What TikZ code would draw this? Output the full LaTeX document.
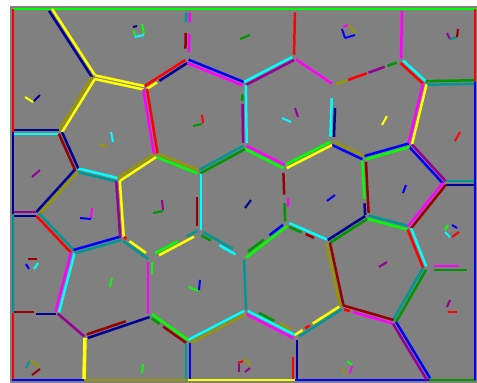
\documentclass[tikz,border=0pt]{standalone}
\usetikzlibrary{calc}
\definecolor{kgray}{RGB}{128,128,128}
\definecolor{kred}{RGB}{255,0,0}
\definecolor{kdred}{RGB}{150,0,0}
\definecolor{kgreen}{RGB}{0,255,0}
\definecolor{kdgreen}{RGB}{0,150,0}
\definecolor{kblue}{RGB}{0,0,255}
\definecolor{knavy}{RGB}{0,0,150}
\definecolor{kyellow}{RGB}{255,255,0}
\definecolor{kolive}{RGB}{150,150,0}
\definecolor{kcyan}{RGB}{0,255,255}
\definecolor{kteal}{RGB}{0,150,150}
\definecolor{kmag}{RGB}{255,0,255}
\definecolor{kpurple}{RGB}{150,0,150}
\tikzset{
  hline/.style={line width=2.5pt, shorten <=1pt, shorten >=1pt},
  bline/.style={line width=2.6pt},
  mk/.style={line width=2pt}
}
% half-edge on the left of #2->#3, from fraction #5 to #6, colour #4, offset #1
\newcommand\hseg[6][1.8pt]{%
  \path ($(#2)!#5!(#3)$) coordinate (hsA) ($(#2)!#6!(#3)$) coordinate (hsB);
  \draw[hline,#4] ($(hsA)!#1!90:(hsB)$) -- ($(hsB)!#1!-90:(hsA)$);}
\newcommand\hedge[4]{\hseg{#1}{#2}{#3}{0}{1}\hseg{#2}{#1}{#4}{0}{1}}
\begin{document}
\begin{tikzpicture}[x=1pt,y=-1pt]
\useasboundingbox (0,0) rectangle (477,383);
\fill[kgray] (10,6) rectangle (477,383);
% border coordinates
\coordinate (TL) at (13,9);  \coordinate (TR) at (475,9);
\coordinate (BL) at (13,380); \coordinate (BR) at (475,380);
\coordinate (t1) at (50,9);  \coordinate (t2) at (188,9);
\coordinate (t3) at (295,9); \coordinate (t4) at (402,9);
\coordinate (l1) at (13,132); \coordinate (l2) at (13,214); \coordinate (l3) at (13,313);
\coordinate (r1) at (475,82); \coordinate (r2) at (475,183); \coordinate (r3) at (475,268);
\coordinate (b1) at (84,380); \coordinate (b2) at (188,380);
\coordinate (b3) at (295,380); \coordinate (b4) at (429,380);
% inner vertices
\coordinate (A) at (94,77);   \coordinate (B) at (145,88);
\coordinate (C) at (60,132);  \coordinate (D) at (187,61);
\coordinate (E) at (244,84);  \coordinate (F) at (156,155);
\coordinate (G) at (199,172); \coordinate (H) at (77,170);
\coordinate (I) at (118,180); \coordinate (J) at (245,147);
\coordinate (K) at (285,167); \coordinate (L) at (294,58);
\coordinate (M) at (334,85);  \coordinate (N) at (401,61);
\coordinate (O) at (425,83);  \coordinate (P) at (410,145);
\coordinate (Q) at (364,158); \coordinate (R) at (332,143);
\coordinate (S) at (445,183); \coordinate (T) at (37,214);
\coordinate (U) at (73,252);  \coordinate (V) at (122,238);
\coordinate (W) at (150,258); \coordinate (X) at (199,232);
\coordinate (Y) at (57,313);  \coordinate (Z) at (85,337);
\coordinate (AA) at (150,315); \coordinate (AB) at (188,342);
\coordinate (AC) at (244,257); \coordinate (AD) at (287,224);
\coordinate (AE) at (328,242); \coordinate (AF) at (367,217);
\coordinate (AG) at (409,228); \coordinate (AH) at (425,268);
\coordinate (AI) at (342,307); \coordinate (AJ) at (394,322);
\coordinate (AK) at (295,337); \coordinate (AL) at (246,312);
% outer border
\draw[bline,kgreen] ([xshift=-1pt]TL) -- ([xshift=2pt]TR);
\draw[bline,kred] (TL) -- (l1);
\draw[bline,knavy] (l1) -- (l2);
\draw[bline,kteal] (l2) -- (l3);
\draw[bline,kred] (l3) -- (BL);
\draw[bline,kblue] ([xshift=-1pt]BL) -- (b1);
\draw[bline,kolive] (b1) -- (b2);
\draw[bline,kyellow] (b2) -- (b3);
\draw[bline,kblue] (b3) -- (b4);
\draw[bline,kdgreen] (b4) -- ([xshift=1pt]BR);
\draw[bline,kred] (TR) -- (r1);
\draw[bline,kblue] (r1) -- (BR);
% edges
\hedge{t1}{A}{kyellow}{knavy}
\hedge{A}{B}{kyellow}{kyellow}
\hedge{A}{C}{kyellow}{kolive}
\hedge{l1}{C}{knavy}{kcyan}
\hseg{B}{D}{kred}{0}{1}\hseg{D}{B}{knavy}{0}{0.7}\hseg{D}{B}{kyellow}{0.72}{1}
\hedge{B}{F}{kred}{kmag}
\hseg{t2}{D}{kmag}{0.05}{0.27}\hseg{t2}{D}{kmag}{0.46}{0.85}
\hseg{D}{t2}{kteal}{0.73}{0.95}\hseg{D}{t2}{kdred}{0.22}{0.56}
\hedge{D}{E}{kblue}{kmag}
\hedge{E}{L}{kcyan}{kpurple}
\hseg[0pt]{t3}{L}{kred}{0.05}{0.95}
\hseg[0pt]{L}{M}{kmag}{0.03}{0.97}
\hseg[0pt]{M}{N}{kolive}{0.02}{0.2}\hseg[0pt]{M}{N}{kred}{0.2}{0.5}
\hseg[0pt]{M}{N}{kpurple}{0.5}{0.77}\hseg[0pt]{M}{N}{kdgreen}{0.78}{0.95}
\hseg[0pt]{t4}{N}{kmag}{0.02}{0.97}
\hedge{N}{O}{kcyan}{kred}
\hedge{O}{r1}{kdgreen}{kteal}
\hedge{O}{P}{kyellow}{kmag}
\hedge{P}{S}{kpurple}{kblue}
\hedge{S}{r2}{kteal}{knavy}
\hedge{Q}{P}{kblue}{kgreen}
\hedge{R}{Q}{kolive}{kblue}
\hseg{M}{R}{knavy}{0.38}{0.91}\hseg{R}{M}{kcyan}{0.09}{0.79}
\hedge{K}{R}{kgreen}{kyellow}
\hedge{J}{K}{kmag}{kgreen}
\hseg{E}{J}{kcyan}{0}{0.95}\hseg{J}{E}{kpurple}{0.05}{0.7}\hseg{J}{E}{kdgreen}{0.72}{0.85}
\hedge{G}{J}{kteal}{kdgreen}
\hedge{F}{G}{kolive}{kgreen}
\hedge{I}{F}{kolive}{kyellow}
\hedge{H}{I}{kcyan}{kteal}
\hedge{C}{H}{knavy}{kdred}
\hedge{H}{T}{kolive}{knavy}
\hedge{l2}{T}{kpurple}{knavy}
\hedge{T}{U}{kteal}{kred}
\hedge{U}{V}{kblue}{kteal}
\hedge{I}{V}{kyellow}{kpurple}
\hseg{V}{W}{kred}{0}{0.15}\hseg{V}{W}{kyellow}{0.2}{0.85}\hseg{W}{V}{kteal}{0}{0.95}
\hseg{W}{X}{kgreen}{0.1}{0.6}\hseg{W}{X}{kteal}{0.75}{1}\hseg{X}{W}{kyellow}{0.1}{0.85}
\hseg{G}{X}{kcyan}{0.02}{0.98}\hseg{X}{G}{kdred}{0.08}{0.6}
\hseg{X}{AC}{kteal}{0.05}{0.75}\hseg{AC}{X}{kcyan}{0.15}{0.55}\hseg{AC}{X}{kdgreen}{0.7}{0.95}
\hseg{AC}{AD}{kdgreen}{0.1}{0.5}\hseg{AC}{AD}{kblue}{0.6}{0.95}\hseg{AD}{AC}{kgreen}{0}{1}
\hseg{K}{AD}{kmag}{0.53}{0.72}\hseg{AD}{K}{kdred}{0.5}{0.91}\hseg{AD}{K}{kdgreen}{0.03}{0.38}
\hseg{AD}{AE}{kcyan}{0.02}{0.98}\hseg{AE}{AD}{kdred}{0.3}{0.55}\hseg{AE}{AD}{kdgreen}{0.6}{0.95}
\hedge{AE}{AF}{knavy}{kdgreen}
\hseg{Q}{AF}{kdred}{0.05}{0.95}\hseg{AF}{Q}{knavy}{0.02}{0.25}\hseg{AF}{Q}{kgreen}{0.29}{0.97}
\hedge{AF}{AG}{kteal}{kgreen}
\hedge{AG}{S}{kmag}{kdred}
\hedge{AG}{AH}{kcyan}{kred}
\hseg{AH}{r3}{kmag}{0.15}{0.7}\hseg{r3}{AH}{kdgreen}{0.15}{0.85}
\hedge{AH}{AJ}{kdgreen}{kteal}
\hedge{AJ}{b4}{kblue}{kpurple}
\hseg{AI}{AJ}{kdred}{0}{1}\hseg{AJ}{AI}{kmag}{0}{0.8}\hseg{AJ}{AI}{kred}{0.82}{0.97}
\hedge{AE}{AI}{kdred}{kolive}
\hseg{AK}{AI}{kyellow}{0}{0.2}\hseg{AK}{AI}{kred}{0.22}{0.35}\hseg{AK}{AI}{kyellow}{0.38}{0.98}
\hseg{AI}{AK}{kteal}{0}{0.95}
\hseg{AK}{b3}{knavy}{0.05}{1}\hseg{b3}{AK}{kred}{0}{0.55}
\hedge{AK}{AL}{kmag}{kcyan}
\hseg[5pt]{AL}{AK}{kdgreen}{0.2}{0.55}\hseg[5pt]{AL}{AK}{kolive}{0.62}{0.9}
\hseg[0pt]{AC}{AL}{kteal}{0.03}{0.97}
\hedge{AB}{AL}{kcyan}{kolive}
\hseg{AA}{AB}{kgreen}{0}{1}\hseg{AB}{AA}{kdred}{0}{0.65}\hseg{AB}{AA}{kdgreen}{0.7}{0.95}
\hedge{AB}{b2}{kblue}{kteal}
\hseg{Z}{AA}{kdred}{0.02}{0.65}\hseg{AA}{Z}{knavy}{0}{0.98}
\draw[hline,kyellow,line width=3.6pt] (Z) -- (b1);
\hseg[0pt]{Y}{Z}{kpurple}{0}{1}
\hseg[0.8pt]{l3}{Y}{kdred}{0}{0.5}\hseg[0.8pt]{Y}{l3}{knavy}{0}{0.5}
\hedge{U}{Y}{kcyan}{kmag}
\hseg{W}{AA}{kgreen}{0.05}{0.3}\hseg{AA}{W}{kmag}{0}{0.95}
% site markers
\draw[mk,kyellow] (25,97) -- (33,102); \draw[mk,knavy] (34,101) -- (40,95);
\draw[mk,knavy] (133,27) -- (137,26); \draw[mk,kgreen] (134,30) -- (135,36);
\draw[mk,kgreen] (142,24) -- (144,34); \draw[mk,kcyan] (135,37) -- (144,35);
\draw[mk,kred] (202,115) -- (203,123); \draw[mk,kdgreen] (193,126) -- (202,124);
\draw[mk,kcyan] (111,132) -- (113,142); \draw[mk,kolive] (99,144) -- (107,147);
\draw[mk,kpurple] (32,177) -- (40,170);
\draw[mk,kcyan] (282,118) -- (291,122); \draw[mk,kpurple] (295,108) -- (298,117);
\draw[mk,kmag] (343,27) -- (348,25); \draw[mk,kolive] (349,25) -- (355,33);
\draw[mk,kblue] (342,29) -- (345,38); \draw[mk,kblue] (345,38) -- (355,35);
\draw[mk,kpurple] (447,33) -- (450,39); \draw[mk,kteal] (450,39) -- (457,37);
\draw[mk,kdred] (458,29) -- (457,37);
\draw[mk,kyellow] (382,125) -- (387,116);
\draw[mk,kred] (455,141) -- (460,132);
\draw[mk,kpurple] (162,200) -- (163,210); \draw[mk,kdgreen] (153,213) -- (163,211);
\draw[mk,knavy] (245,208) -- (251,200);
\draw[mk,kblue] (327,201) -- (335,195);
\draw[mk,kblue] (403,193) -- (406,185);
\draw[mk,kdred] (28,259) -- (37,259); \draw[mk,kblue] (26,264) -- (29,269);
\draw[mk,kcyan] (34,269) -- (38,263);
\draw[mk,kmag] (92,208) -- (91,218); \draw[mk,kblue] (80,218) -- (91,219);
\draw[mk,kgreen] (112,278) -- (110,287);
\draw[mk,kblue] (200,280) -- (199,290); \draw[mk,kgreen] (189,287) -- (198,291);
\draw[mk,kpurple] (379,267) -- (387,262);
\draw[mk,kpurple] (450,300) -- (447,307); \draw[mk,kred] (448,312) -- (457,312);
\draw[mk,kgreen] (445,230) -- (448,225); \draw[mk,kcyan] (445,232) -- (450,237);
\draw[mk,kblue] (452,225) -- (457,228); \draw[mk,kred] (452,237) -- (459,232);
\draw[mk,kgreen] (347,361) -- (352,365); \draw[mk,kmag] (352,366) -- (350,373);
\draw[mk,kolive] (343,368) -- (345,373);
\draw[mk,kgreen] (143,364) -- (142,373);
\draw[mk,kteal] (26,368) -- (30,360); \draw[mk,kolive] (30,360) -- (39,367);
\draw[mk,kdred] (32,375) -- (40,369);
\draw[mk,kred] (238,363) -- (243,361); \draw[mk,kolive] (245,358) -- (250,365);
\draw[mk,kpurple] (239,364) -- (239,372); \draw[mk,kpurple] (245,372) -- (250,368);
\draw[mk,kdgreen] (240,39) -- (250,35);
\end{tikzpicture}
\end{document}
